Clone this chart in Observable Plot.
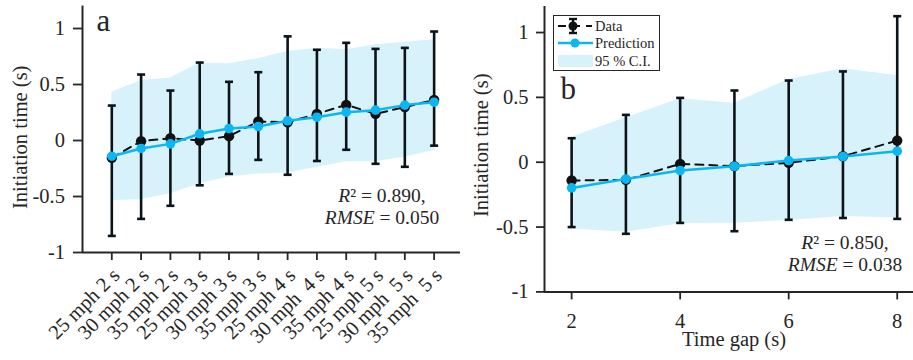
<!DOCTYPE html>
<html>
<head>
<meta charset="utf-8">
<script src="https://cdn.jsdelivr.net/npm/d3@7"></script>
<script src="https://cdn.jsdelivr.net/npm/@observablehq/plot@0.6"></script>
<style>
  html, body { margin: 0; padding: 0; background: #fff; }
  #wrap { position: relative; width: 913px; height: 360px; overflow: hidden; font-family: "Liberation Serif", "Times New Roman", serif; color: #262626; }
  #wrap > * { position: absolute; }
  .fit { font-size: 19.5px; line-height: 22px; text-align: center; white-space: nowrap; }
  .fit i { font-style: italic; }
</style>
</head>
<body>
<div id="wrap"></div>
<script>
// Panel a: initiation time by speed / time-gap condition
const conditionLabels = [
  "25 mph 2 s", "30 mph 2 s", "35 mph 2 s",
  "25 mph 3 s", "30 mph 3 s", "35 mph 3 s",
  "25 mph 4 s", "30 mph\u00a0 4 s", "35 mph 4 s",
  "25 mph 5 s", "30 mph\u00a0 5 s", "35 mph\u00a0 5 s"
];
const aObserved  = [-0.155, -0.006, 0.02, 0.0, 0.039, 0.17, 0.162, 0.238, 0.318, 0.238, 0.298, 0.363];
const aErrLow    = [-0.852, -0.70, -0.583, -0.40, -0.298, -0.173, -0.306, -0.183, -0.083, -0.208, -0.235, -0.046];
const aErrHigh   = [0.312, 0.589, 0.446, 0.696, 0.524, 0.61, 0.93, 0.81, 0.872, 0.818, 0.827, 0.973];
const aPredicted = [-0.14, -0.071, -0.03, 0.06, 0.107, 0.125, 0.176, 0.208, 0.253, 0.271, 0.316, 0.342];
const aCiLow     = [-0.536, -0.53, -0.476, -0.387, -0.327, -0.30, -0.29, -0.238, -0.19, -0.19, -0.149, -0.09];
const aCiHigh    = [0.43, 0.536, 0.557, 0.69, 0.685, 0.73, 0.795, 0.824, 0.81, 0.854, 0.878, 0.899];

// Panel b: initiation time by time gap
const timeGaps   = [2, 3, 4, 5, 6, 7, 8];
const bObserved  = [-0.141, -0.136, -0.013, -0.03, -0.005, 0.046, 0.167];
const bErrLow    = [-0.50, -0.552, -0.468, -0.532, -0.444, -0.43, -0.437];
const bErrHigh   = [0.185, 0.365, 0.496, 0.553, 0.63, 0.70, 1.126];
const bPredicted = [-0.198, -0.13, -0.064, -0.031, 0.013, 0.044, 0.085];
const bCiLow     = [-0.514, -0.54, -0.475, -0.47, -0.45, -0.419, -0.43];
const bCiHigh    = [0.193, 0.342, 0.489, 0.455, 0.638, 0.72, 0.668];

// Axis settings
const yDomain   = [-1, 1.2];
const yTicks    = [-1, -0.5, 0, 0.5, 1];
const aXDomain  = [0, 12.9];
const bXDomain  = [1.5, 8.3];
const gapTicks  = [2, 4, 6, 8];
const fitA = {r2: "0.890", rmse: "0.050"};
const fitB = {r2: "0.850", rmse: "0.038"};

const BLUE = "#0bb7f3";
const BAND = "#d8f2fc";
const INK  = "#0b1418";
const AXIS = "#262626";
const SERIF = "Liberation Serif, Times New Roman, serif";

// Horizontal cap drawn at the ends of each error bar
const capSymbol = {
  draw(context, size) {
    context.moveTo(-4, 0);
    context.lineTo(4, 0);
  }
};

const rowsA = conditionLabels.map((label, k) => ({
  x: k + 1, label, obs: aObserved[k], lo: aErrLow[k], hi: aErrHigh[k],
  pred: aPredicted[k], ciLo: aCiLow[k], ciHi: aCiHigh[k]
}));
const rowsB = timeGaps.map((g, k) => ({
  x: g, obs: bObserved[k], lo: bErrLow[k], hi: bErrHigh[k],
  pred: bPredicted[k], ciLo: bCiLow[k], ciHi: bCiHigh[k]
}));

const style = {
  fontFamily: SERIF,
  fontSize: "20.5px",
  color: AXIS,
  background: "transparent",
  overflow: "visible"
};

function seriesMarks(rows) {
  return [
    Plot.areaY(rows, {x: "x", y1: "ciLo", y2: "ciHi", fill: BAND}),
    Plot.ruleX(rows, {x: "x", y1: "lo", y2: "hi", stroke: INK, strokeWidth: 2.6}),
    Plot.dot(rows, {x: "x", y: "lo", symbol: capSymbol, fill: "none", stroke: INK, strokeWidth: 2.6}),
    Plot.dot(rows, {x: "x", y: "hi", symbol: capSymbol, fill: "none", stroke: INK, strokeWidth: 2.6}),
    Plot.line(rows, {x: "x", y: "obs", stroke: "#111", strokeWidth: 2, strokeDasharray: "8,6"}),
    Plot.dot(rows, {x: "x", y: "obs", r: 5.2, fill: "#111"}),
    Plot.line(rows, {x: "x", y: "pred", stroke: BLUE, strokeWidth: 2.5}),
    Plot.dot(rows, {x: "x", y: "pred", r: 4.8, fill: BLUE})
  ];
}

const chartA = Plot.plot({
  width: 462, height: 360,
  marginLeft: 82, marginRight: 2, marginTop: 5.6, marginBottom: 108,
  x: {domain: aXDomain},
  y: {domain: yDomain},
  style,
  marks: [
    ...seriesMarks(rowsA),
    Plot.ruleY([yDomain[0]], {stroke: AXIS, strokeWidth: 2}),
    Plot.ruleX([aXDomain[0]], {stroke: AXIS, strokeWidth: 2}),
    Plot.axisY({ticks: yTicks, tickSize: 9, tickPadding: 8.5, tickFormat: d => String(d), label: null, stroke: AXIS, strokeWidth: 1.8}),
    Plot.axisX({ticks: rowsA.map(d => d.x), tickSize: 8, tickFormat: () => "", label: null, stroke: AXIS, strokeWidth: 1.8}),
    Plot.text(rowsA, {x: "x", text: "label", frameAnchor: "bottom", rotate: -45, textAnchor: "end", lineAnchor: "bottom", dx: 9, dy: 24, fill: AXIS}),
    Plot.text(["Initiation time (s)"], {text: d => d, frameAnchor: "left", rotate: -90, textAnchor: "middle", lineAnchor: "bottom", dx: -56, dy: 8, fill: AXIS}),
    Plot.text(["a"], {text: d => d, frameAnchor: "top-left", textAnchor: "start", lineAnchor: "bottom", dx: 14, dy: 24.4, fontSize: 31, fill: AXIS})
  ]
});

const chartB = Plot.plot({
  width: 451, height: 360,
  marginLeft: 82, marginRight: 0, marginTop: 6.1, marginBottom: 68.6,
  x: {domain: bXDomain},
  y: {domain: yDomain},
  style,
  marks: [
    ...seriesMarks(rowsB),
    Plot.ruleY([yDomain[0]], {stroke: AXIS, strokeWidth: 2}),
    Plot.ruleX([bXDomain[0]], {stroke: AXIS, strokeWidth: 2}),
    Plot.axisY({ticks: yTicks, tickSize: 8, tickPadding: 8, tickFormat: d => String(d), label: null, stroke: AXIS, strokeWidth: 1.8}),
    Plot.axisX({ticks: gapTicks, tickSize: 8, tickPadding: 14, tickFormat: d => String(d), label: null, stroke: AXIS, strokeWidth: 1.8}),
    Plot.text(["Time gap (s)"], {text: d => d, frameAnchor: "bottom", textAnchor: "middle", lineAnchor: "bottom", dx: 5, dy: 53.6, fill: AXIS}),
    Plot.text(["Initiation time (s)"], {text: d => d, frameAnchor: "left", rotate: -90, textAnchor: "middle", lineAnchor: "bottom", dx: -57, dy: -4, fill: AXIS}),
    Plot.text(["b"], {text: d => d, frameAnchor: "top-left", textAnchor: "start", lineAnchor: "bottom", dx: 16, dy: 92, fontSize: 31, fill: AXIS})
  ]
});

const wrap = document.getElementById("wrap");
chartA.style.left = "0px"; chartA.style.top = "0px";
chartB.style.left = "462px"; chartB.style.top = "0px";
wrap.appendChild(chartA);
wrap.appendChild(chartB);

// Goodness-of-fit notes
function fitNote(fit, left, top, width) {
  const div = document.createElement("div");
  div.className = "fit";
  div.style.left = left + "px";
  div.style.top = top + "px";
  div.style.width = width + "px";
  div.innerHTML = `<i>R</i>\u00b2 = ${fit.r2},<br><i>RMSE</i> = ${fit.rmse}`;
  wrap.appendChild(div);
}
fitNote(fitA, 322, 185, 120);
fitNote(fitB, 785, 231.5, 120);

// Legend for panel b
const legend = d3.create("svg")
  .attr("width", 108).attr("height", 57)
  .style("left", "553px").style("top", "15px")
  .style("overflow", "visible");
legend.append("rect")
  .attr("x", 0.5).attr("y", 0.5).attr("width", 106).attr("height", 55)
  .attr("fill", "#fff").attr("stroke", AXIS).attr("stroke-width", 1);
// Data entry: dashed line, marker and error bar
legend.append("line").attr("x1", 5).attr("x2", 39).attr("y1", 11).attr("y2", 11)
  .attr("stroke", "#111").attr("stroke-width", 2).attr("stroke-dasharray", "8,6");
legend.append("line").attr("x1", 20).attr("x2", 20).attr("y1", 4).attr("y2", 18)
  .attr("stroke", INK).attr("stroke-width", 2.4);
legend.append("line").attr("x1", 16).attr("x2", 24).attr("y1", 4).attr("y2", 4)
  .attr("stroke", INK).attr("stroke-width", 2.4);
legend.append("line").attr("x1", 16).attr("x2", 24).attr("y1", 18).attr("y2", 18)
  .attr("stroke", INK).attr("stroke-width", 2.4);
legend.append("circle").attr("cx", 20).attr("cy", 11).attr("r", 4.5).attr("fill", "#111");
// Prediction entry
legend.append("line").attr("x1", 5).attr("x2", 40).attr("y1", 28).attr("y2", 28)
  .attr("stroke", BLUE).attr("stroke-width", 2.5);
legend.append("circle").attr("cx", 22).attr("cy", 28).attr("r", 4.5).attr("fill", BLUE);
// Confidence band entry
legend.append("rect").attr("x", 5).attr("y", 40).attr("width", 35).attr("height", 12).attr("fill", BAND);
const legendText = [["Data", 16], ["Prediction", 33], ["95 % C.I.", 51]];
legend.selectAll("text.lab").data(legendText).join("text")
  .attr("class", "lab")
  .attr("x", 42).attr("y", d => d[1])
  .attr("font-family", SERIF)
  .attr("font-size", 14.5).attr("fill", AXIS)
  .text(d => d[0]);
wrap.appendChild(legend.node());
</script>
</body>
</html>
